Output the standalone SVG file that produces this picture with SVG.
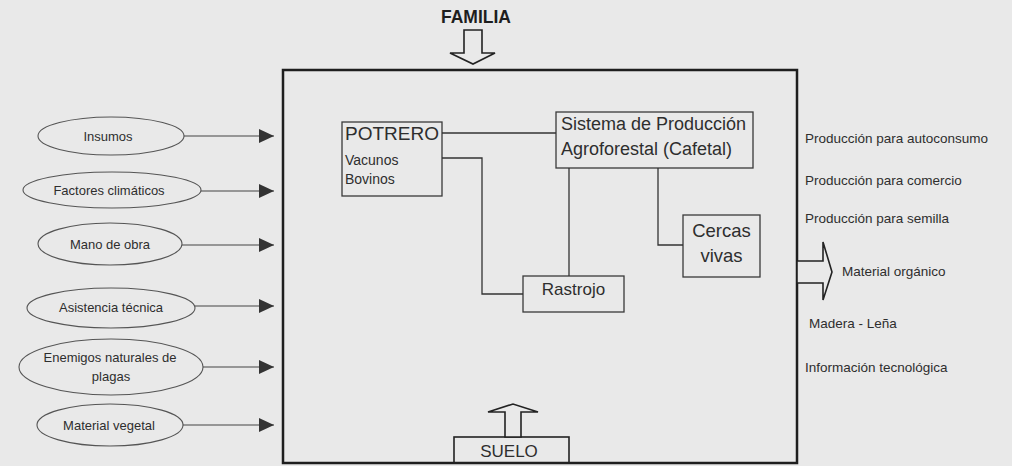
<svg xmlns="http://www.w3.org/2000/svg" width="1012" height="466" viewBox="0 0 1012 466">
  <style>
    .bg { fill: #e9e9e9; }
    .frame { fill: none; stroke: #1e1e1e; stroke-width: 2.5; }
    .box { fill: none; stroke: #3a3a3a; stroke-width: 1.3; }
    .ell { fill: none; stroke: #555; stroke-width: 1.1; }
    .conn { fill: none; stroke: #333; stroke-width: 1.3; }
    .feed { fill: none; stroke: #444; stroke-width: 1.2; marker-end: url(#tri); }
    .hollow { fill: #e9e9e9; stroke: #222; stroke-width: 1.6; stroke-linejoin: miter; }
    text { font-family: "Liberation Sans", Arial, sans-serif; fill: #2e2e2e; }
    .lbl { font-size: 13px; text-anchor: middle; }
    .out { font-size: 13.5px; }
    .big { font-size: 18px; }
  </style>
  <defs>
    <marker id="tri" markerUnits="userSpaceOnUse" markerWidth="15" markerHeight="14" refX="15" refY="7" orient="auto">
      <path d="M0,0 L15,7 L0,14 Z" fill="#333"/>
    </marker>
  </defs>

  <rect class="bg" x="0" y="0" width="1012" height="466"/>

  <g id="familia">
    <text x="476" y="23" font-size="17.5" font-weight="bold" text-anchor="middle" style="fill:#1e1e1e">FAMILIA</text>
    <polygon class="hollow" points="464,30 482,30 482,53 495,53 473,64 450,53 464,53"/>
  </g>

  <g id="sistema-finca">
    <rect class="frame" x="283" y="70" width="514" height="393"/>
  </g>

  <g id="insumos">
    <ellipse class="ell" cx="111" cy="136" rx="73" ry="19"/>
    <text class="lbl" x="108" y="140.5" font-size="13.5">Insumos</text>
  </g>
  <g id="factores">
    <ellipse class="ell" cx="112" cy="190" rx="89" ry="18"/>
    <text class="lbl" x="109" y="194.5">Factores climáticos</text>
  </g>
  <g id="mano">
    <ellipse class="ell" cx="110" cy="244" rx="72" ry="21"/>
    <text class="lbl" x="110" y="248.5" font-size="13.5">Mano de obra</text>
  </g>
  <g id="asistencia">
    <ellipse class="ell" cx="111" cy="308" rx="84" ry="20"/>
    <text class="lbl" x="111" y="311.5">Asistencia técnica</text>
  </g>
  <g id="enemigos">
    <ellipse class="ell" cx="111" cy="367" rx="92" ry="28"/>
    <text class="lbl" x="110" y="362">Enemigos naturales de</text>
    <text class="lbl" x="111" y="381">plagas</text>
  </g>
  <g id="material-vegetal">
    <ellipse class="ell" cx="110" cy="425" rx="73" ry="21"/>
    <text class="lbl" x="109" y="429.5">Material vegetal</text>
  </g>

  <g id="potrero">
    <rect class="box" x="342" y="122" width="100" height="74"/>
    <text x="345" y="140" font-size="19">POTRERO</text>
    <text x="345" y="165" font-size="14">Vacunos</text>
    <text x="345" y="184" font-size="14">Bovinos</text>
  </g>
  <g id="sistema">
    <rect class="box" x="556" y="112" width="197" height="56"/>
    <text class="big" x="561" y="130">Sistema de Producción</text>
    <text class="big" x="561" y="155">Agroforestal (Cafetal)</text>
  </g>
  <g id="rastrojo">
    <rect class="box" x="523" y="276" width="101" height="36"/>
    <text x="573.5" y="295" font-size="17" text-anchor="middle">Rastrojo</text>
  </g>
  <g id="cercas">
    <rect class="box" x="683" y="215" width="77" height="62"/>
    <text x="721.5" y="237" font-size="18.5" text-anchor="middle">Cercas</text>
    <text x="721.5" y="262" font-size="18.5" text-anchor="middle">vivas</text>
  </g>

  <g id="suelo">
    <rect class="box" x="454" y="437" width="115" height="26" style="stroke:#222;stroke-width:1.6"/>
    <text x="509" y="457" font-size="17" text-anchor="middle">SUELO</text>
    <polygon class="hollow" points="505,437 505,412 488,412 513,404 538,412 521,412 521,437"/>
  </g>

  <g id="salida">
    <polygon class="hollow" points="797,261 823,261 823,242 832,272 823,300 823,283 797,283"/>
  </g>

  <g id="productos">
    <text class="out" x="805" y="143">Producción para autoconsumo</text>
    <text class="out" x="805" y="185">Producción para comercio</text>
    <text class="out" x="805" y="223">Producción para semilla</text>
    <text class="out" x="842" y="276">Material orgánico</text>
    <text class="out" x="809" y="328">Madera - Leña</text>
    <text class="out" x="805" y="372">Información tecnológica</text>
  </g>

  <g id="connectors">
    <line class="feed" x1="184" y1="136" x2="274" y2="136"/>
    <line class="feed" x1="201" y1="191" x2="274" y2="191"/>
    <line class="feed" x1="182" y1="245" x2="274" y2="245"/>
    <line class="feed" x1="195" y1="306" x2="274" y2="306"/>
    <line class="feed" x1="203" y1="367" x2="274" y2="367"/>
    <line class="feed" x1="183" y1="425" x2="274" y2="425"/>
    <polyline class="conn" points="442,133 556,133"/>
    <polyline class="conn" points="442,158 482,158 482,294 523,294"/>
    <polyline class="conn" points="569,168 569,276"/>
    <polyline class="conn" points="658,168 658,245 683,245"/>
  </g>
</svg>
